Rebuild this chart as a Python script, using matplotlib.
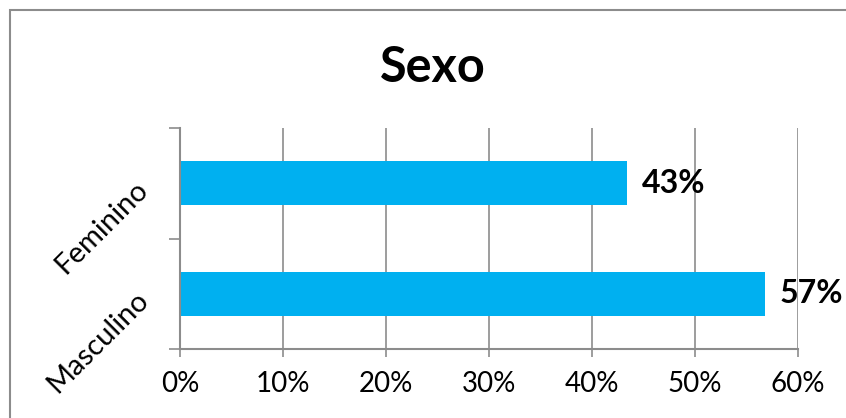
import matplotlib.pyplot as plt
import matplotlib.patches as patches
from matplotlib.ticker import FixedLocator, FuncFormatter

plt.rcParams['font.family'] = ['Lato', 'DejaVu Sans']

categorias = ["Masculino", "Feminino"]
valores = [0.568, 0.434]
x_ticks = [0, 0.1, 0.2, 0.3, 0.4, 0.5, 0.6]

azul = "#00B0F0"
cinza = "#8C8C8C"

fig = plt.figure(figsize=(8.46, 4.18), dpi=100)

# moldura externa do gráfico
borda = patches.Rectangle((10 / 846, -0.2), 1.2, (408 / 418) + 0.2,
                          transform=fig.transFigure, fill=False,
                          edgecolor=cinza, linewidth=1.5)
fig.patches.append(borda)

ax = fig.add_axes([180 / 846, 1 - 349 / 418, 618 / 846, 221 / 418])

pos = list(range(len(categorias)))
ax.barh(pos, valores, height=0.4, color=azul, zorder=3)

for p, v in zip(pos, valores):
    ax.text(v + 0.014, p, "%d%%" % round(v * 100), va="center", ha="left",
            fontsize=23, fontweight="bold", color="black", zorder=4)

ax.set_xlim(0, 0.6)
ax.set_ylim(-0.5, 1.5)
ax.set_xticks(x_ticks)
ax.xaxis.set_major_formatter(FuncFormatter(lambda x, _: "%d%%" % round(x * 100)))
ax.tick_params(axis="x", length=6, width=1.2, color=cinza, labelsize=20, pad=10)

# marcas nos limites das categorias, rótulos no centro
ax.yaxis.set_major_locator(FixedLocator([-0.5, 0.5, 1.5]))
ax.yaxis.set_major_formatter(FuncFormatter(lambda y, _: ""))
ax.yaxis.set_minor_locator(FixedLocator(pos))
ax.set_yticklabels(categorias, minor=True, rotation=45, ha="right",
                   rotation_mode="anchor", fontsize=21)
ax.tick_params(axis="y", which="major", length=8, width=1.2, color=cinza)
ax.tick_params(axis="y", which="minor", length=0, pad=27)

ax.grid(axis="x", color=cinza, linewidth=1.2, zorder=0)
for s in ["top", "right"]:
    ax.spines[s].set_visible(False)
for s in ["left", "bottom"]:
    ax.spines[s].set_color(cinza)
    ax.spines[s].set_linewidth(1.5)
    ax.spines[s].set_zorder(4)

fig.text(433 / 846, 1 - 68 / 418, "Sexo", ha="center", va="center",
         fontsize=35, fontweight="bold")

fig.savefig("out.png", dpi=100)
plt.close(fig)
